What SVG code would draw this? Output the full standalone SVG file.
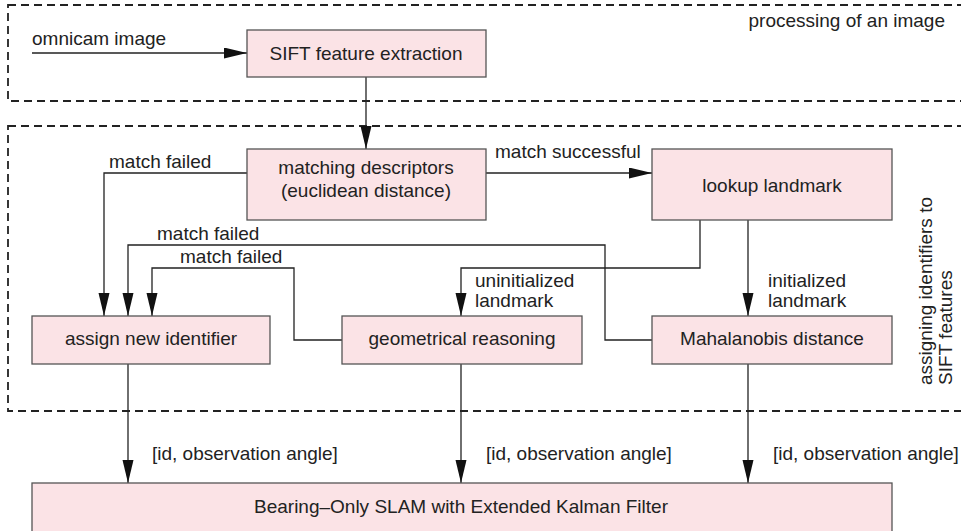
<svg xmlns="http://www.w3.org/2000/svg" width="961" height="531" viewBox="0 0 961 531">
<defs>
<marker id="ah" markerUnits="userSpaceOnUse" markerWidth="24" markerHeight="12" refX="23" refY="5.5" orient="auto">
<path d="M0,0 L23,5.5 L0,11 z" fill="#111"/>
</marker>
<style>
text{font-family:"Liberation Sans",Arial,sans-serif;font-size:19px;fill:#222}
.c{text-anchor:middle}
.box{fill:#fbe3e6;stroke:#555;stroke-width:1.3}
.dash{fill:none;stroke:#222;stroke-width:1.8;stroke-dasharray:8 5}
.con{fill:none;stroke:#222;stroke-width:1.3}
.arr{marker-end:url(#ah)}
</style>
</defs>
<rect width="961" height="531" fill="#fff"/>
<g id="regions">
<rect class="dash" x="8" y="5" width="965" height="96"/>
<text x="945" y="27" text-anchor="end">processing of an image</text>
<rect class="dash" x="8" y="126" width="965" height="285"/>
<text transform="translate(932,385) rotate(-90)">assigning identifiers to</text>
<text transform="translate(952,385) rotate(-90)">SIFT features</text>
</g>
<g id="connectors">
<path class="con arr" d="M32,53 H247"/>
<text x="32" y="45">omnicam image</text>
<path class="con arr" d="M366,77 V149"/>
<path class="con arr" d="M486,173 H652"/>
<text x="495" y="158">match successful</text>
<path class="con arr" d="M247,173 H104 V316"/>
<text x="109" y="168">match failed</text>
<path class="con arr" d="M652,340 H605 V245 H128 V316"/>
<text x="157" y="240">match failed</text>
<path class="con arr" d="M342,340 H294 V268 H152 V316"/>
<text x="180" y="263">match failed</text>
<path class="con arr" d="M700,220 V268 H461 V316"/>
<text x="475" y="287">uninitialized</text>
<text x="475" y="307">landmark</text>
<path class="con arr" d="M748,220 V316"/>
<text x="768" y="287">initialized</text>
<text x="768" y="307">landmark</text>
<path class="con arr" d="M128,364 V483"/>
<text x="152" y="460">[id, observation angle]</text>
<path class="con arr" d="M461,364 V483"/>
<text x="486" y="460">[id, observation angle]</text>
<path class="con arr" d="M748,364 V483"/>
<text x="773" y="460">[id, observation angle]</text>
</g>
<g id="sift">
<rect class="box" x="247" y="30" width="239" height="47"/>
<text class="c" x="366" y="60">SIFT feature extraction</text>
</g>
<g id="matching">
<rect class="box" x="247" y="149" width="239" height="71"/>
<text class="c" x="366" y="174">matching descriptors</text>
<text class="c" x="366" y="197">(euclidean distance)</text>
</g>
<g id="lookup">
<rect class="box" x="652" y="149" width="240" height="71"/>
<text class="c" x="772" y="192">lookup landmark</text>
</g>
<g id="assign">
<rect class="box" x="32" y="316" width="238" height="48"/>
<text class="c" x="151" y="345">assign new identifier</text>
</g>
<g id="geometrical">
<rect class="box" x="342" y="316" width="240" height="48"/>
<text class="c" x="462" y="345">geometrical reasoning</text>
</g>
<g id="mahalanobis">
<rect class="box" x="652" y="316" width="240" height="48"/>
<text class="c" x="772" y="345">Mahalanobis distance</text>
</g>
<g id="slam">
<rect class="box" x="32" y="483" width="860" height="52"/>
<text class="c" x="461" y="513">Bearing–Only SLAM with Extended Kalman Filter</text>
</g>
</svg>
